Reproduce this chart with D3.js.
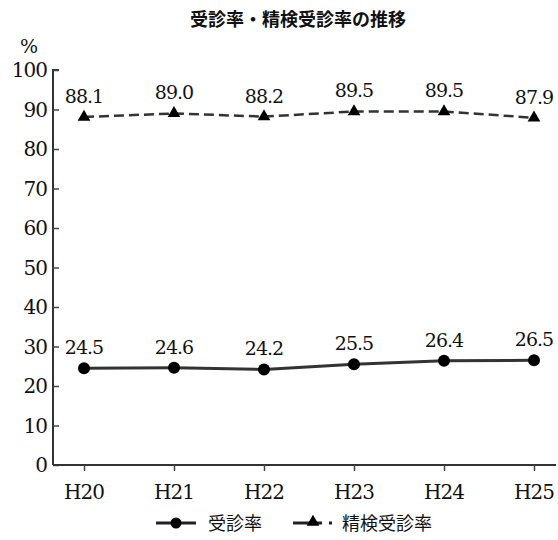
<!DOCTYPE html>
<html><head><meta charset="utf-8">
<script src="https://cdn.jsdelivr.net/npm/d3@7"></script>
<style>body{margin:0;background:#fff}svg{display:block}
.sf{font-family:"DejaVu Serif","Liberation Serif",serif}
.cj{font-family:"Noto Sans CJK JP","Noto Sans CJK SC",sans-serif}</style>
</head><body>
<script>
const categories = ["H20","H21","H22","H23","H24","H25"];
const jushinritsu = [24.5,24.6,24.2,25.5,26.4,26.5];
const seikenJushinritsu = [88.1,89.0,88.2,89.5,89.5,87.9];
const yTicks = [0,10,20,30,40,50,60,70,80,90,100];
const title = "受診率・精検受診率の推移";
const seriesNames = ["受診率","精検受診率"];

const W=558,H=540;
const svg = d3.select("body").append("svg").attr("width",W).attr("height",H);

const x = d3.scalePoint().domain(categories).range([84,534]);
const y = d3.scaleLinear().domain([0,100]).range([465,70]);
const ink = "#111";

svg.append("text").attr("class","cj").attr("x",298).attr("y",26).attr("text-anchor","middle")
  .attr("font-size",18).attr("font-weight","bold").attr("fill",ink).text(title);
svg.append("text").attr("class","sf").attr("x",29).attr("y",53).attr("text-anchor","middle")
  .attr("font-size",19).attr("fill",ink).text("%");

const ya = svg.append("g").attr("transform","translate(53,0)")
  .call(d3.axisRight(y).tickValues(yTicks).tickSize(6).tickFormat(""));
ya.select(".domain").attr("d",`M6,${y(100)}H0V${y(0)}`).attr("stroke","#333").attr("stroke-width",2);
ya.selectAll(".tick line").attr("stroke","#444").attr("stroke-width",1.5);
svg.append("g").selectAll("text").data(yTicks).join("text").attr("class","sf")
  .attr("x",47).attr("y",d=>y(d)+7).attr("text-anchor","end").attr("letter-spacing",-1)
  .attr("font-size",20).attr("fill",ink).text(d=>d);

const xa = svg.append("g").attr("transform",`translate(0,${y(0)})`)
  .call(d3.axisBottom(x).tickSize(6).tickFormat(""));
xa.select(".domain").attr("d",`M53,0H556`).attr("stroke","#333").attr("stroke-width",2);
xa.selectAll(".tick line").attr("stroke","#444").attr("stroke-width",1.5);
svg.append("g").selectAll("text").data(categories).join("text").attr("class","sf")
  .attr("x",d=>x(d)).attr("y",499).attr("text-anchor","middle").attr("letter-spacing",-1)
  .attr("font-size",20).attr("fill",ink).text(d=>d);

const line = d3.line().x((d,i)=>x(categories[i])).y(d=>y(d));

svg.append("path").datum(jushinritsu).attr("d",line).attr("fill","none")
  .attr("stroke","#333").attr("stroke-width",3);
svg.append("g").selectAll("circle").data(jushinritsu).join("circle")
  .attr("cx",(d,i)=>x(categories[i])).attr("cy",d=>y(d)).attr("r",6).attr("fill","#000");
svg.append("g").selectAll("text").data(jushinritsu).join("text").attr("class","sf")
  .attr("x",(d,i)=>x(categories[i])).attr("y",d=>y(d)-14).attr("text-anchor","middle").attr("letter-spacing",-1)
  .attr("font-size",19).attr("fill",ink).text(d=>d.toFixed(1));

svg.append("path").datum(seikenJushinritsu).attr("d",line).attr("fill","none")
  .attr("stroke","#333").attr("stroke-width",2.5).attr("stroke-dasharray","10,5");
const tri = d3.symbol().type(d3.symbolTriangle).size(70);
svg.append("g").selectAll("path").data(seikenJushinritsu).join("path")
  .attr("d",tri).attr("transform",(d,i)=>`translate(${x(categories[i])},${y(d)})`).attr("fill","#000");
svg.append("g").selectAll("text").data(seikenJushinritsu).join("text").attr("class","sf")
  .attr("x",(d,i)=>x(categories[i])).attr("y",d=>y(d)-14).attr("text-anchor","middle").attr("letter-spacing",-1)
  .attr("font-size",19).attr("fill",ink).text(d=>d.toFixed(1));

const ly = 523;
const lg = svg.append("g");
lg.append("line").attr("x1",156).attr("x2",196).attr("y1",ly).attr("y2",ly).attr("stroke","#222").attr("stroke-width",3);
lg.append("circle").attr("cx",176).attr("cy",ly).attr("r",5.5).attr("fill","#000");
lg.append("text").attr("class","cj").attr("x",208).attr("y",ly+7).attr("font-size",18).attr("fill",ink).text(seriesNames[0]);
lg.append("line").attr("x1",293).attr("x2",322).attr("y1",ly).attr("y2",ly).attr("stroke","#222").attr("stroke-width",3);
lg.append("path").attr("d",tri).attr("transform",`translate(313,${ly-1})`).attr("fill","#000");
lg.append("rect").attr("x",329).attr("y",ly-1.5).attr("width",3).attr("height",3).attr("fill","#222");
lg.append("text").attr("class","cj").attr("x",342).attr("y",ly+7).attr("font-size",18).attr("fill",ink).text(seriesNames[1]);
</script>
</body></html>
